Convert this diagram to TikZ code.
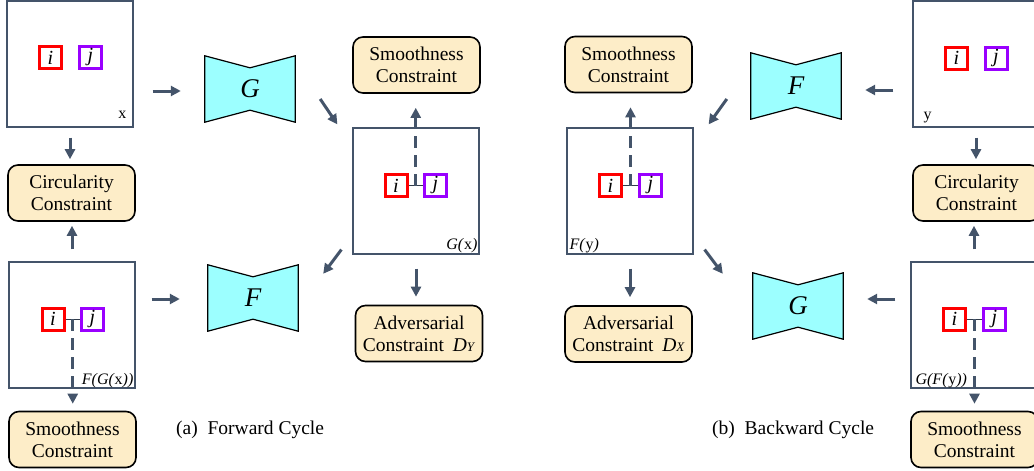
\documentclass[tikz,border=0pt]{standalone}
\usepackage{fontspec}
\setmainfont{Liberation Serif}
\usetikzlibrary{arrows.meta,calc,backgrounds}
\definecolor{arrcol}{HTML}{44546A}
\definecolor{boxfill}{HTML}{FDEDC8}
\definecolor{netfill}{HTML}{9CFFFF}
\definecolor{ired}{HTML}{FF0000}
\definecolor{jpurple}{HTML}{9900FF}
\tikzset{
 img/.style={draw=arrcol, line width=1.2pt, fill=white, minimum width=126pt, minimum height=126pt, inner sep=0pt},
 cons/.style={draw=black, line width=1.6pt, fill=boxfill, rounded corners=10pt, minimum width=127pt, minimum height=56pt, align=center, font=\fontsize{19.5}{22}\selectfont, inner sep=0pt},
 net/.style={minimum width=90pt, minimum height=66pt, font=\fontsize{27}{27}\selectfont\itshape, inner sep=0pt},
 netshape/.style={draw=black, line width=1.2pt, fill=netfill},
 ibox/.style={draw=ired, line width=3pt, fill=white, minimum size=22pt, inner sep=0pt, font=\fontsize{20}{20}\selectfont\itshape},
 jbox/.style={ibox, draw=jpurple},
 arr/.style={draw=arrcol, line width=3pt, -{Triangle[length=10pt,width=10pt]}},
 darr/.style={arr, dash pattern=on 12pt off 7pt},
 link/.style={draw=arrcol!70!black, line width=1pt},
 lab/.style={font=\fontsize{16}{16}\selectfont, inner sep=0pt},
 capt/.style={font=\fontsize{19.5}{22}\selectfont, anchor=west, inner sep=0pt},
}
\newcommand{\netbody}[1]{%
 \begin{scope}[on background layer]
 \draw[netshape] (#1.north west) -- ($(#1.north)+(0,12)$) -- (#1.north east) -- (#1.south east) -- ($(#1.south)+(0,-12)$) -- (#1.south west) -- cycle;
 \end{scope}}
\begin{document}
\begin{tikzpicture}[x=1pt,y=-1pt]
\useasboundingbox (0,0) rectangle (1034,471);
\clip (0,0) rectangle (1034,471);

% ---------- image boxes ----------
\node[img] (X) at (70,64) {};
\node[img] (FGx) at (72,325) {};
\node[img] (Gx) at (416,191) {};
\node[img] (Fy) at (630,191) {};
\node[img] (Y) at (976,64) {};
\node[img] (GFy) at (974,325) {};

% i / j patches
\node[ibox] (i1) at ($(X)+(-19.5,-6.5)$) {i};
\node[jbox] (j1) at ($(X)+(20.5,-6.5)$) {j};
\node[ibox] (i2) at ($(FGx)+(-19,-6)$) {i};
\node[jbox] (j2) at ($(FGx)+(20.5,-6)$) {j};
\node[ibox] (i3) at ($(Gx)+(-20,-5.5)$) {i};
\node[jbox] (j3) at ($(Gx)+(19.5,-5.5)$) {j};
\node[ibox] (i4) at ($(Fy)+(-19.5,-5.5)$) {i};
\node[jbox] (j4) at ($(Fy)+(20.5,-5.5)$) {j};
\node[ibox] (i5) at ($(Y)+(-19.5,-6)$) {i};
\node[jbox] (j5) at ($(Y)+(20,-6)$) {j};
\node[ibox] (i6) at ($(GFy)+(-19.5,-6)$) {i};
\node[jbox] (j6) at ($(GFy)+(20.5,-6)$) {j};

% image labels
\node[lab, anchor=base east] (lx) at ($(X.south east)+(-7,-9)$) {x};
\node[lab, anchor=base east] (lfgx) at ($(FGx.south east)+(-2,-4)$) {\textit{F(G(}x\textit{))}};
\node[lab, anchor=base east] (lgx) at ($(Gx.south east)+(-2,-5)$) {\textit{G(}x\textit{)}};
\node[lab, anchor=base west] (lfy) at ($(Fy.south west)+(3,-5)$) {\textit{F(}y\textit{)}};
\node[lab, anchor=base west] (ly) at ($(Y.south west)+(11,-8)$) {y};
\node[lab, anchor=base west] (lgfy) at ($(GFy.south west)+(5,-4)$) {\textit{G(F(}y\textit{))}};

% ---------- constraint boxes ----------
\node[cons] (CircL) at (71.5,193) {Circularity\\Constraint};
\node[cons] (SmoothL) at (72.5,439.5) {Smoothness\\Constraint};
\node[cons] (SmoothM1) at (416.5,65) {Smoothness\\Constraint};
\node[cons] (AdvM1) at (419,333.5) {Adversarial\\Constraint\hspace{0.45em}\textit{D}{\fontsize{13}{13}\selectfont\textit{Y}}};
\node[cons] (SmoothM2) at (628.5,64.5) {Smoothness\\Constraint};
\node[cons] (AdvM2) at (628.5,334) {Adversarial\\Constraint\hspace{0.45em}\textit{D}{\fontsize{13}{13}\selectfont\textit{X}}};
\node[cons] (CircR) at (976.5,193) {Circularity\\Constraint};
\node[cons] (SmoothR) at (974.5,439.5) {Smoothness\\Constraint};

% ---------- generators ----------
\node[net] (G1) at (250,89) {G}; \netbody{G1}
\node[net] (F1) at (253,298) {F}; \netbody{F1}
\node[net] (F2) at (796,86) {F}; \netbody{F2}
\node[net] (G2) at (798,306) {G}; \netbody{G2}

% ---------- captions ----------
\node[capt] (capa) at (176,430) {(a)\hspace{0.5em}Forward Cycle};
\node[capt] (capb) at (712,430) {(b)\hspace{0.5em}Backward Cycle};

% ---------- i-j links and dashed smoothness arrows ----------
\draw[link] (i2) -- (j2);
\draw[link] (i3) -- (j3);
\draw[link] (i4) -- (j4);
\draw[link] (i6) -- (j6);
\coordinate (m2) at ($(i2.east)!0.5!(j2.west)$);
\coordinate (m3) at ($(i3.east)!0.5!(j3.west)$);
\coordinate (m4) at ($(i4.east)!0.5!(j4.west)$);
\coordinate (m6) at ($(i6.east)!0.5!(j6.west)$);
\draw[darr, shorten >=7pt] (m2) -- (m2 |- SmoothL.north);
\draw[darr, shorten >=14pt] (m3) -- (m3 |- SmoothM1.south);
\draw[darr, shorten >=14pt] (m4) -- (m4 |- SmoothM2.south);
\draw[darr, shorten >=7pt] (m6) -- (m6 |- SmoothR.north);

% ---------- solid arrows ----------
% forward cycle
\draw[arr] ($(X.east)+(19,27)$) -- ($(G1.west)+(-24,2)$);
\draw[arr] ($(G1.east)+(25,10)$) -- ($(Gx.north west)+(-15,-3)$);
\draw[arr] ($(Gx.south west)+(-11,-5)$) -- ($(F1.north east)+(25,9)$);
\draw[arr] ($(FGx.east)+(16,-26)$) -- ($(F1.west)+(-28,1)$);
\draw[arr, shorten <=10pt, shorten >=5pt] (X.south) -- (X.south |- CircL.north);
\draw[arr, shorten <=12pt, shorten >=4pt] (FGx.north) -- (FGx.north |- CircL.south);
\draw[arr, shorten <=14pt, shorten >=8pt] (Gx.south) -- (Gx.south |- AdvM1.north);
% backward cycle
\draw[arr] ($(Y.west)+(-19,26)$) -- ($(F2.east)+(24,4)$);
\draw[arr] ($(F2.west)+(-24,13)$) -- ($(Fy.north east)+(15,-3)$);
\draw[arr] ($(Fy.south east)+(11,-5)$) -- ($(G2.north west)+(-30,1)$);
\draw[arr] ($(GFy.west)+(-15,-26)$) -- ($(G2.east)+(24,-7)$);
\draw[arr, shorten <=10pt, shorten >=5pt] (Y.south) -- (Y.south |- CircR.north);
\draw[arr, shorten <=12pt, shorten >=4pt] (GFy.north) -- (GFy.north |- CircR.south);
\draw[arr, shorten <=14pt, shorten >=8pt] (Fy.south) -- (Fy.south |- AdvM2.north);
\end{tikzpicture}
\end{document}
